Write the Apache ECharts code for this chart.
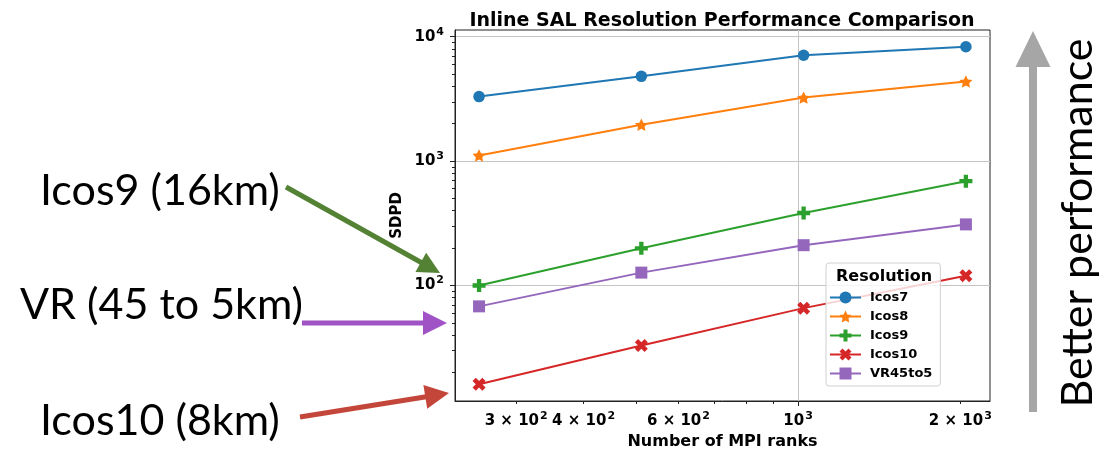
<!DOCTYPE html>
<html>
<head>
<meta charset="utf-8">
<title>Inline SAL Resolution Performance Comparison</title>
<script src="https://cdn.jsdelivr.net/npm/echarts@6/dist/echarts.min.js"></script>
<style>
  html, body { margin: 0; padding: 0; background: #fff; }
  #main { width: 1105px; height: 452px; }
</style>
</head>
<body>
<div id="main"></div>
<script>
  // number of MPI ranks
  const ranks = [256, 512, 1024, 2048]
  // SDPD per resolution
  const icos7 = [3300, 4800, 7100, 8300]
  const icos8 = [1110, 1960, 3240, 4360]
  const icos9 = [100, 199, 383, 690]
  const icos10 = [16.1, 32.9, 65.8, 120]
  const vr45to5 = [68, 127, 211, 310]

  const xLabelValues = [300, 400, 600, 1000, 2000]
  const xLabelTexts = ['3 × 10²', '4 × 10²', '6 × 10²', '10³', '2 × 10³']
  const xMajorTicks = [1000]
  const xMinorTicks = [300, 400, 500, 600, 700, 800, 900, 2000]
  const yLabelValues = [100, 1000, 10000]
  const yLabelTexts = ['10²', '10³', '10⁴']
  const yMinorTicks = [20, 30, 40, 50, 60, 70, 80, 90, 200, 300, 400, 500, 600, 700, 800, 900,
    2000, 3000, 4000, 5000, 6000, 7000, 8000, 9000]

  const mplFont = 'DejaVu Sans'
  const slideFont = 'Lato'

  // matplotlib-like markers
  const starPath = 'path://M0,-10L2.94,-4.05L9.51,-3.09L4.76,1.55L5.88,8.09L0,5L-5.88,8.09L-4.76,1.55L-9.51,-3.09L-2.94,-4.05Z'
  const plusPath = 'path://M-1,-3L1,-3L1,-1L3,-1L3,1L1,1L1,3L-1,3L-1,1L-3,1L-3,-1L-1,-1Z'
  const xPath = 'path://M-1,-2L0,-1L1,-2L2,-1L1,0L2,1L1,2L0,1L-1,2L-2,1L-1,0L-2,-1Z'

  const supDigits = { '²': '2', '³': '3', '⁴': '4' }

  // tick text -> rich text, exponent drawn as a raised smaller token
  function lookup(values, texts, v) {
    const i = values.findIndex((item) => Math.abs(item - v) / item < 1e-6)
    if (i < 0) return ''
    return texts[i].replace(/[²³⁴]/g, (c) => '{s|' + supDigits[c] + '}')
  }

  function makeLine(name, values, color, symbol, size) {
    return {
      name,
      type: 'line',
      data: ranks.map((r, i) => [r, values[i]]),
      symbol,
      symbolSize: size,
      symbolKeepAspect: true,
      lineStyle: { color, width: 2 },
      itemStyle: { color },
      emphasis: { disabled: true },
      z: 3
    }
  }

  function arrow(x1, y1, x2, y2, color, width, headLen, headHalf) {
    const len = Math.hypot(x2 - x1, y2 - y1)
    const ux = (x2 - x1) / len
    const uy = (y2 - y1) / len
    const bx = x2 - ux * headLen
    const by = y2 - uy * headLen
    return [
      {
        type: 'line',
        silent: true,
        shape: { x1, y1, x2: bx + ux, y2: by + uy },
        style: { stroke: color, lineWidth: width }
      },
      {
        type: 'polygon',
        silent: true,
        shape: {
          points: [
            [x2, y2],
            [bx - uy * headHalf, by + ux * headHalf],
            [bx + uy * headHalf, by - ux * headHalf]
          ]
        },
        style: { fill: color }
      }
    ]
  }

  function slideText(text, x, y, align, rotation) {
    return {
      type: 'text',
      silent: true,
      x,
      y,
      rotation: rotation || 0,
      style: {
        text,
        fill: '#000',
        font: '43px ' + slideFont,
        align,
        verticalAlign: 'middle'
      }
    }
  }

  const tickStyle = { color: '#222', width: 1 }
  const labelStyle = {
    fontFamily: mplFont,
    fontWeight: 'bold',
    fontSize: 15,
    lineHeight: 21,
    color: '#000',
    rich: {
      s: {
        fontFamily: mplFont,
        fontWeight: 'bold',
        fontSize: 11,
        lineHeight: 11,
        color: '#000',
        verticalAlign: 'top',
        padding: [0, 0, 0, 1]
      }
    }
  }

  const chart = echarts.init(document.getElementById('main'), null, { renderer: 'canvas' })
  chart.setOption({
    animation: false,
    backgroundColor: '#fff',
    grid: {
      left: 455,
      right: 115,
      top: 30,
      bottom: 51,
      show: true,
      borderColor: '#222',
      borderWidth: 1,
      containLabel: false,
      outerBoundsMode: 'none'
    },
    legend: {
      orient: 'vertical',
      left: 826,
      top: 263,
      padding: [28, 8, 6, 3],
      itemWidth: 31,
      itemHeight: 15,
      itemGap: 6,
      backgroundColor: 'rgba(255,255,255,0.8)',
      borderColor: '#d0d0d0',
      borderWidth: 1,
      borderRadius: 3,
      selectedMode: false,
      textStyle: { fontFamily: mplFont, fontWeight: 'bold', fontSize: 13, color: '#000', padding: [0, 0, 0, 4] },
      data: ['Icos7', 'Icos8', 'Icos9', 'Icos10', 'VR45to5']
    },
    xAxis: [
      {
        type: 'log',
        min: 231,
        max: 2270,
        name: 'Number of MPI ranks',
        nameLocation: 'middle',
        nameGap: 33,
        nameMoveOverlap: false,
        nameTextStyle: { fontFamily: mplFont, fontWeight: 'bold', fontSize: 16, color: '#000' },
        axisLine: { lineStyle: tickStyle },
        axisTick: { customValues: xMajorTicks, length: 5, lineStyle: tickStyle },
        axisLabel: {
          customValues: xLabelValues,
          formatter: (v) => lookup(xLabelValues, xLabelTexts, v),
          margin: 10,
          ...labelStyle
        },
        splitLine: { show: true, lineStyle: { color: '#c4c4c4', width: 1 } },
        minorTick: { show: false }
      },
      {
        type: 'log',
        min: 231,
        max: 2270,
        position: 'bottom',
        axisLine: { show: false },
        axisTick: { customValues: xMinorTicks, length: 3, lineStyle: tickStyle },
        axisLabel: { show: false },
        splitLine: { show: false }
      }
    ],
    yAxis: [
      {
        type: 'log',
        min: 11.8,
        max: 11320,
        name: 'SDPD',
        nameLocation: 'middle',
        nameGap: 50,
        nameMoveOverlap: false,
        nameTextStyle: { fontFamily: mplFont, fontWeight: 'bold', fontSize: 15, color: '#000' },
        axisLine: { show: true, lineStyle: tickStyle },
        axisTick: { customValues: yLabelValues, length: 5, lineStyle: tickStyle },
        axisLabel: {
          customValues: yLabelValues,
          formatter: (v) => lookup(yLabelValues, yLabelTexts, v),
          margin: 11,
          ...labelStyle
        },
        splitLine: { show: true, lineStyle: { color: '#c4c4c4', width: 1 } }
      },
      {
        type: 'log',
        min: 11.8,
        max: 11320,
        position: 'left',
        axisLine: { show: false },
        axisTick: { customValues: yMinorTicks, length: 3, lineStyle: tickStyle },
        axisLabel: { show: false },
        splitLine: { show: false }
      }
    ],
    series: [
      makeLine('Icos7', icos7, '#1f77b4', 'circle', 11.5),
      makeLine('Icos8', icos8, '#ff7f0e', starPath, 13),
      makeLine('Icos9', icos9, '#2ca02c', plusPath, 13),
      makeLine('Icos10', icos10, '#d62728', xPath, 13),
      makeLine('VR45to5', vr45to5, '#9467bd', 'rect', 12)
    ],
    graphic: {
      elements: [
        {
          type: 'text',
          silent: true,
          x: 722,
          y: 21,
          style: {
            text: 'Inline SAL Resolution Performance Comparison',
            fill: '#000',
            font: 'bold 19px ' + mplFont,
            align: 'center',
            verticalAlign: 'middle'
          }
        },
        {
          type: 'text',
          silent: true,
          z: 100,
          x: 884,
          y: 277,
          style: {
            text: 'Resolution',
            fill: '#000',
            font: 'bold 16px ' + mplFont,
            align: 'center',
            verticalAlign: 'middle'
          }
        },
        slideText('Icos9 (16km)', 40, 191, 'left'),
        slideText('VR (45 to 5km)', 20, 305, 'left'),
        slideText('Icos10 (8km)', 40, 421, 'left'),
        slideText('Better performance', 1078, 223, 'center', Math.PI / 2),
        ...arrow(286, 187, 440, 273, '#548235', 5, 22, 11),
        ...arrow(302, 323, 447, 323, '#a053c4', 5, 24, 12),
        ...arrow(300, 417, 449, 393, '#c4463a', 5, 24, 12),
        ...arrow(1033, 412, 1033, 31, '#a6a6a6', 8, 36, 17.5)
      ]
    }
  })
</script>
</body>
</html>
